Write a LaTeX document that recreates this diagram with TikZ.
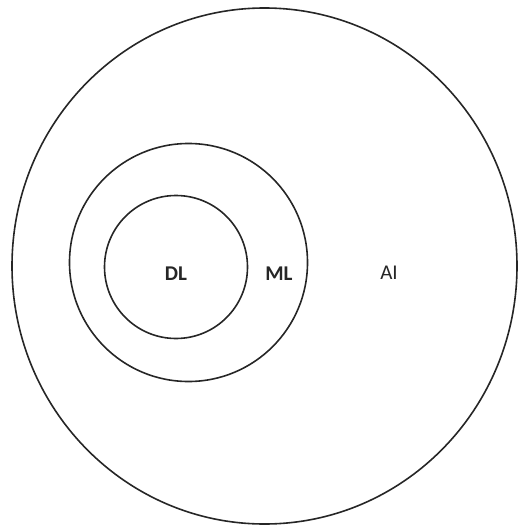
\documentclass[tikz,border=0pt]{standalone}
\usepackage{fontspec}
\setmainfont{Carlito}
\begin{document}
\begin{tikzpicture}[x=1pt,y=-1pt,
  ring/.style={draw=black!85,line width=1.6pt},
  lbl/.style={font=\fontsize{21}{24}\selectfont,text=black!85},
  blbl/.style={font=\bfseries\fontsize{21}{24}\selectfont,text=black!85}]
\useasboundingbox (0,0) rectangle (518,527);
\draw[ring] (264.5,266) ellipse [x radius=252.5,y radius=258];
\draw[ring] (188.5,262.5) circle [radius=119];
\draw[ring] (176,267) circle [radius=71.5];
\node[blbl] (dl) at (176,273.5) {DL};
\node[blbl] (ml) at (279,273.5) {ML};
\node[lbl] (ai) at (389,272.5) {AI};
\end{tikzpicture}
\end{document}
